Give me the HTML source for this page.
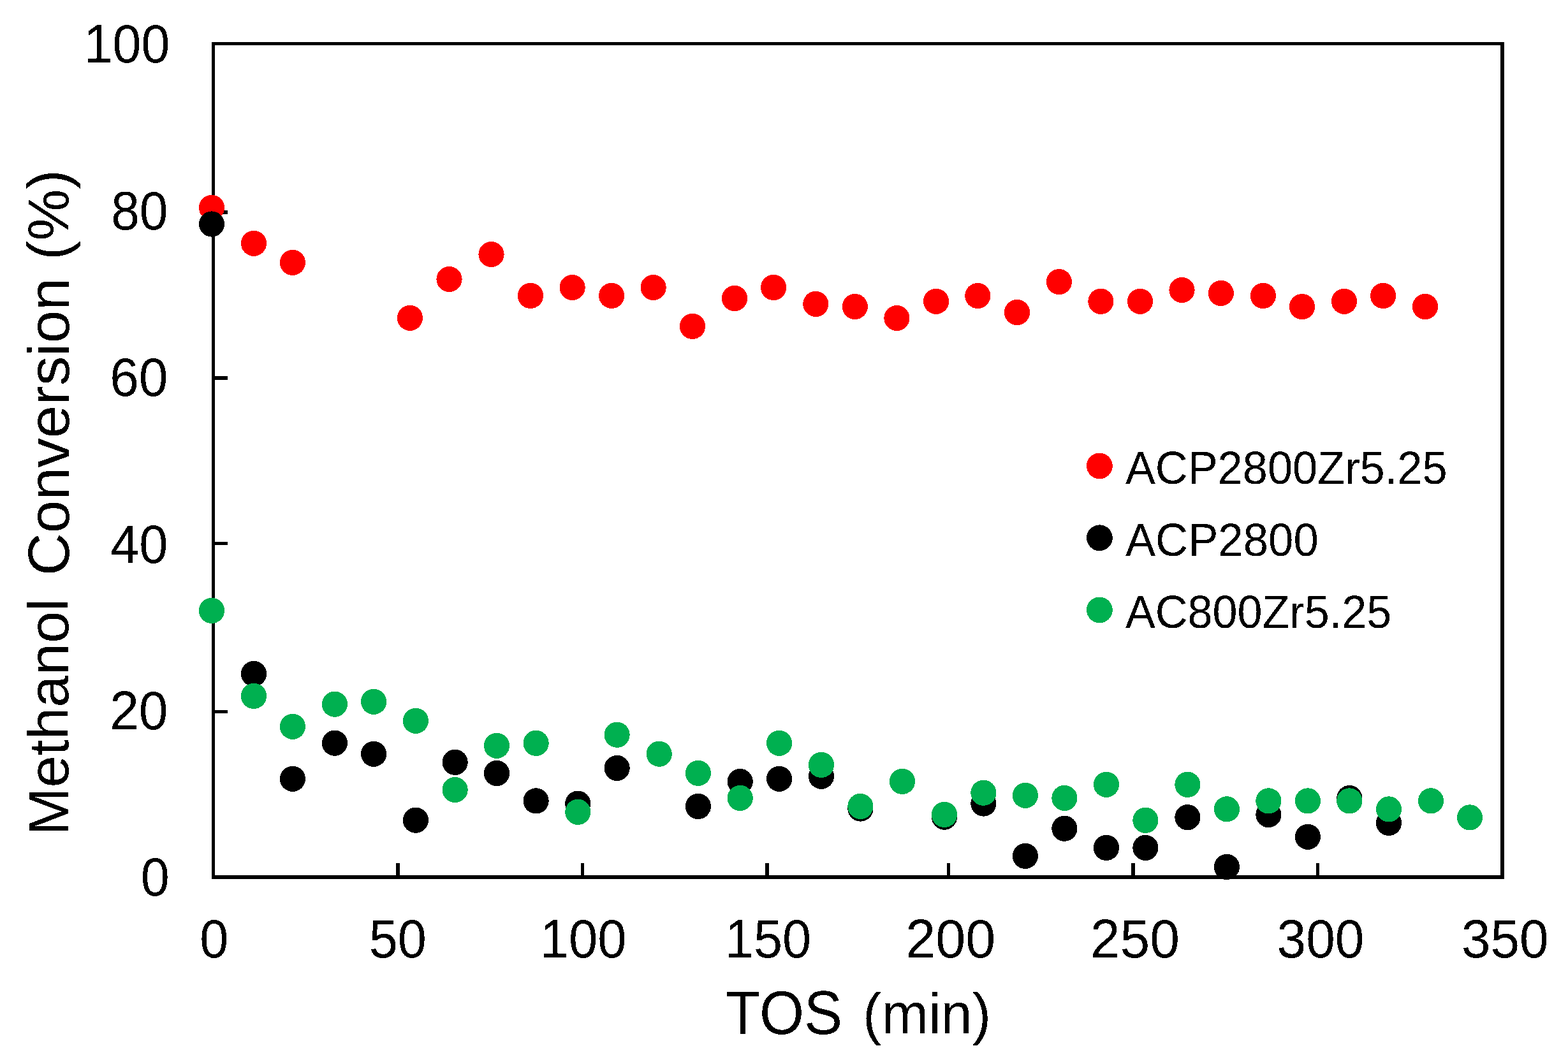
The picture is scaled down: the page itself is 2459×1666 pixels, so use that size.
<!DOCTYPE html>
<html><head><meta charset="utf-8"><title>Methanol Conversion vs TOS</title>
<style>
html,body{margin:0;padding:0;background:#fff;}
body{width:2459px;height:1666px;overflow:hidden;}
svg{display:block;}
text{font-family:"Liberation Sans",Arial,sans-serif;fill:#000;}
</style></head>
<body>
<svg width="2459" height="1666" viewBox="0 0 2459 1666">
<defs><filter id="crisp" color-interpolation-filters="sRGB"><feComponentTransfer><feFuncA type="discrete" tableValues="0 1"/></feComponentTransfer></filter></defs>
<rect x="0" y="0" width="2459" height="1666" fill="#fff"/>
<g fill="#000" shape-rendering="crispEdges">
<rect x="332" y="66" width="5" height="1313"/>
<rect x="332" y="66" width="2027" height="5"/>
<rect x="2353" y="66" width="6" height="1313"/>
<rect x="332" y="1373" width="2027" height="6"/>
<rect x="337" y="330" width="20" height="6"/>
<rect x="337" y="590" width="20" height="6"/>
<rect x="337" y="850" width="20" height="5"/>
<rect x="337" y="1114" width="20" height="5"/>
<rect x="621" y="1354" width="6" height="19"/>
<rect x="911" y="1354" width="5" height="19"/>
<rect x="1200" y="1354" width="6" height="19"/>
<rect x="1485" y="1354" width="5" height="19"/>
<rect x="1774" y="1354" width="6" height="19"/>
<rect x="2064" y="1354" width="5" height="19"/>
</g>
<g shape-rendering="crispEdges">
<circle cx="332.0" cy="325.8" r="20.1" fill="#ff0000"/>
<circle cx="398.0" cy="381.8" r="20.1" fill="#ff0000"/>
<circle cx="458.9" cy="411.9" r="20.1" fill="#ff0000"/>
<circle cx="642.9" cy="498.8" r="20.1" fill="#ff0000"/>
<circle cx="704.5" cy="438.0" r="20.1" fill="#ff0000"/>
<circle cx="770.5" cy="399.0" r="20.1" fill="#ff0000"/>
<circle cx="832.0" cy="463.9" r="20.1" fill="#ff0000"/>
<circle cx="897.6" cy="451.0" r="20.1" fill="#ff0000"/>
<circle cx="959.1" cy="463.9" r="20.1" fill="#ff0000"/>
<circle cx="1024.6" cy="451.0" r="20.1" fill="#ff0000"/>
<circle cx="1086.0" cy="511.9" r="20.1" fill="#ff0000"/>
<circle cx="1152.0" cy="468.0" r="20.1" fill="#ff0000"/>
<circle cx="1213.1" cy="451.0" r="20.1" fill="#ff0000"/>
<circle cx="1279.3" cy="476.9" r="20.1" fill="#ff0000"/>
<circle cx="1340.8" cy="481.0" r="20.1" fill="#ff0000"/>
<circle cx="1406.4" cy="499.0" r="20.1" fill="#ff0000"/>
<circle cx="1468.1" cy="472.8" r="20.1" fill="#ff0000"/>
<circle cx="1533.3" cy="464.0" r="20.1" fill="#ff0000"/>
<circle cx="1595.0" cy="490.0" r="20.1" fill="#ff0000"/>
<circle cx="1660.9" cy="442.1" r="20.1" fill="#ff0000"/>
<circle cx="1726.4" cy="472.8" r="20.1" fill="#ff0000"/>
<circle cx="1788.0" cy="472.8" r="20.1" fill="#ff0000"/>
<circle cx="1853.5" cy="455.0" r="20.1" fill="#ff0000"/>
<circle cx="1914.8" cy="459.9" r="20.1" fill="#ff0000"/>
<circle cx="1980.9" cy="464.0" r="20.1" fill="#ff0000"/>
<circle cx="2042.0" cy="481.1" r="20.1" fill="#ff0000"/>
<circle cx="2108.0" cy="472.8" r="20.1" fill="#ff0000"/>
<circle cx="2169.1" cy="464.0" r="20.1" fill="#ff0000"/>
<circle cx="2235.0" cy="481.0" r="20.1" fill="#ff0000"/>
<circle cx="332.0" cy="351.5" r="20.1" fill="#000000"/>
<circle cx="398.0" cy="1057.0" r="20.1" fill="#000000"/>
<circle cx="458.9" cy="1221.8" r="20.1" fill="#000000"/>
<circle cx="524.9" cy="1165.7" r="20.1" fill="#000000"/>
<circle cx="586.1" cy="1182.8" r="20.1" fill="#000000"/>
<circle cx="651.9" cy="1286.7" r="20.1" fill="#000000"/>
<circle cx="713.6" cy="1195.8" r="20.1" fill="#000000"/>
<circle cx="779.0" cy="1213.0" r="20.1" fill="#000000"/>
<circle cx="840.6" cy="1256.4" r="20.1" fill="#000000"/>
<circle cx="906.3" cy="1260.6" r="20.1" fill="#000000"/>
<circle cx="967.6" cy="1204.9" r="20.1" fill="#000000"/>
<circle cx="1094.9" cy="1265.0" r="20.1" fill="#000000"/>
<circle cx="1160.7" cy="1226.0" r="20.1" fill="#000000"/>
<circle cx="1222.1" cy="1221.8" r="20.1" fill="#000000"/>
<circle cx="1288.0" cy="1217.8" r="20.1" fill="#000000"/>
<circle cx="1349.4" cy="1268.6" r="20.1" fill="#000000"/>
<circle cx="1481.0" cy="1281.7" r="20.1" fill="#000000"/>
<circle cx="1542.4" cy="1260.6" r="20.1" fill="#000000"/>
<circle cx="1607.9" cy="1342.9" r="20.1" fill="#000000"/>
<circle cx="1669.4" cy="1299.7" r="20.1" fill="#000000"/>
<circle cx="1735.0" cy="1329.9" r="20.1" fill="#000000"/>
<circle cx="1796.4" cy="1329.9" r="20.1" fill="#000000"/>
<circle cx="1862.4" cy="1282.2" r="20.1" fill="#000000"/>
<circle cx="1923.9" cy="1360.0" r="20.1" fill="#000000"/>
<circle cx="1989.4" cy="1278.1" r="20.1" fill="#000000"/>
<circle cx="2050.9" cy="1312.8" r="20.1" fill="#000000"/>
<circle cx="2116.3" cy="1252.0" r="20.1" fill="#000000"/>
<circle cx="2178.0" cy="1290.9" r="20.1" fill="#000000"/>
<circle cx="332.0" cy="957.9" r="20.1" fill="#00b050"/>
<circle cx="398.0" cy="1091.9" r="20.1" fill="#00b050"/>
<circle cx="458.9" cy="1139.8" r="20.1" fill="#00b050"/>
<circle cx="524.9" cy="1104.7" r="20.1" fill="#00b050"/>
<circle cx="586.1" cy="1100.8" r="20.1" fill="#00b050"/>
<circle cx="651.9" cy="1130.8" r="20.1" fill="#00b050"/>
<circle cx="713.6" cy="1239.0" r="20.1" fill="#00b050"/>
<circle cx="779.0" cy="1169.8" r="20.1" fill="#00b050"/>
<circle cx="840.6" cy="1165.8" r="20.1" fill="#00b050"/>
<circle cx="906.3" cy="1273.8" r="20.1" fill="#00b050"/>
<circle cx="967.6" cy="1152.7" r="20.1" fill="#00b050"/>
<circle cx="1033.7" cy="1182.7" r="20.1" fill="#00b050"/>
<circle cx="1094.9" cy="1212.9" r="20.1" fill="#00b050"/>
<circle cx="1160.7" cy="1251.9" r="20.1" fill="#00b050"/>
<circle cx="1222.1" cy="1165.8" r="20.1" fill="#00b050"/>
<circle cx="1288.0" cy="1199.9" r="20.1" fill="#00b050"/>
<circle cx="1349.4" cy="1264.9" r="20.1" fill="#00b050"/>
<circle cx="1415.0" cy="1225.9" r="20.1" fill="#00b050"/>
<circle cx="1481.0" cy="1277.9" r="20.1" fill="#00b050"/>
<circle cx="1542.4" cy="1243.7" r="20.1" fill="#00b050"/>
<circle cx="1607.9" cy="1247.8" r="20.1" fill="#00b050"/>
<circle cx="1669.4" cy="1251.9" r="20.1" fill="#00b050"/>
<circle cx="1735.0" cy="1230.8" r="20.1" fill="#00b050"/>
<circle cx="1796.4" cy="1286.8" r="20.1" fill="#00b050"/>
<circle cx="1862.4" cy="1230.8" r="20.1" fill="#00b050"/>
<circle cx="1923.9" cy="1269.3" r="20.1" fill="#00b050"/>
<circle cx="1989.4" cy="1256.4" r="20.1" fill="#00b050"/>
<circle cx="2050.9" cy="1256.4" r="20.1" fill="#00b050"/>
<circle cx="2116.3" cy="1256.4" r="20.1" fill="#00b050"/>
<circle cx="2178.0" cy="1269.4" r="20.1" fill="#00b050"/>
<circle cx="2244.0" cy="1256.3" r="20.1" fill="#00b050"/>
<circle cx="2305.0" cy="1282.4" r="20.1" fill="#00b050"/>
</g>
<g shape-rendering="crispEdges">
<circle cx="1724.4" cy="730.9" r="20.4" fill="#ff0000"/>
<circle cx="1724.4" cy="843.8" r="20.4" fill="#000000"/>
<circle cx="1724.4" cy="956.9" r="20.4" fill="#00b050"/>
</g>
<g filter="url(#crisp)">
<g transform="matrix(0.98583 0 0 1.03103 5.699 -2.241)"><text x="264.5" y="97.4" font-size="82" text-anchor="end">100</text></g>
<g transform="matrix(0.97857 0 0 1.03966 4.593 -16.395)"><text x="264.5" y="361.9" font-size="82" text-anchor="end">80</text></g>
<g transform="matrix(1.00119 0 0 1.03621 -1.311 -23.557)"><text x="264.5" y="621.9" font-size="82" text-anchor="end">60</text></g>
<g transform="matrix(0.98953 0 0 1.03621 1.731 -29.934)"><text x="264.5" y="881.4" font-size="82" text-anchor="end">40</text></g>
<g transform="matrix(1.00119 0 0 1.03448 -1.311 -40.517)"><text x="264.5" y="1145.4" font-size="82" text-anchor="end">20</text></g>
<g transform="matrix(0.98718 0 0 1.03793 4.646 -53.331)"><text x="264.5" y="1404.9" font-size="82" text-anchor="end">0</text></g>
<g transform="matrix(0.98974 0 0 1.03793 4.831 -56.910)"><text x="334.5" y="1501.5" font-size="82" text-anchor="middle">0</text></g>
<g transform="matrix(0.98810 0 0 1.03793 7.629 -56.910)"><text x="623.5" y="1501.5" font-size="82" text-anchor="middle">50</text></g>
<g transform="matrix(0.99291 0 0 1.03793 8.131 -56.910)"><text x="913.0" y="1501.5" font-size="82" text-anchor="middle">100</text></g>
<g transform="matrix(0.98984 0 0 1.03793 14.178 -56.910)"><text x="1202.5" y="1501.5" font-size="82" text-anchor="middle">150</text></g>
<g transform="matrix(1.03023 0 0 1.03793 -41.121 -56.910)"><text x="1487.0" y="1501.5" font-size="82" text-anchor="middle">200</text></g>
<g transform="matrix(1.02538 0 0 1.03793 -41.758 -56.910)"><text x="1776.5" y="1501.5" font-size="82" text-anchor="middle">250</text></g>
<g transform="matrix(1.00000 0 0 1.03793 5.000 -56.910)"><text x="2066.0" y="1501.5" font-size="82" text-anchor="middle">300</text></g>
<g transform="matrix(0.99771 0 0 1.03793 10.244 -56.910)"><text x="2355.5" y="1501.5" font-size="82" text-anchor="middle">350</text></g>
<g transform="matrix(0.98994 0 0 1.05000 9.284 -81.050)"><text x="1139.8" y="1622" font-size="91" text-anchor="start">TOS</text></g>
<g transform="matrix(0.96990 0 0 0.97765 37.899 35.581)"><text x="1356" y="1622" font-size="91" text-anchor="start">(min)</text></g>
<g transform="matrix(0.98507 0 0 0.99389 0.627 12.732)"><text transform="translate(108,1306) rotate(-90)" font-size="91" text-anchor="start">Methanol</text></g>
<g transform="matrix(1.00000 0 0 1.01559 -0.500 -13.084)"><text transform="translate(108,902) rotate(-90)" font-size="91" text-anchor="start">Conversion</text></g>
<g transform="matrix(0.98824 0 0 0.99923 0.494 4.206)"><text transform="translate(108,404) rotate(-90)" font-size="91" text-anchor="start">(%)</text></g>
<g transform="matrix(0.99841 0 0 1.02041 2.713 -15.690)"><text x="1765" y="759.2" font-size="70.5" text-anchor="start">ACP2800Zr5.25</text></g>
<g transform="matrix(1.00368 0 0 1.02245 -6.593 -19.676)"><text x="1765" y="872.1" font-size="70.5" text-anchor="start">ACP2800</text></g>
<g transform="matrix(0.99567 0 0 1.02041 7.537 -20.202)"><text x="1765" y="985.0" font-size="70.5" text-anchor="start">AC800Zr5.25</text></g>
</g>
</svg>
</body></html>
